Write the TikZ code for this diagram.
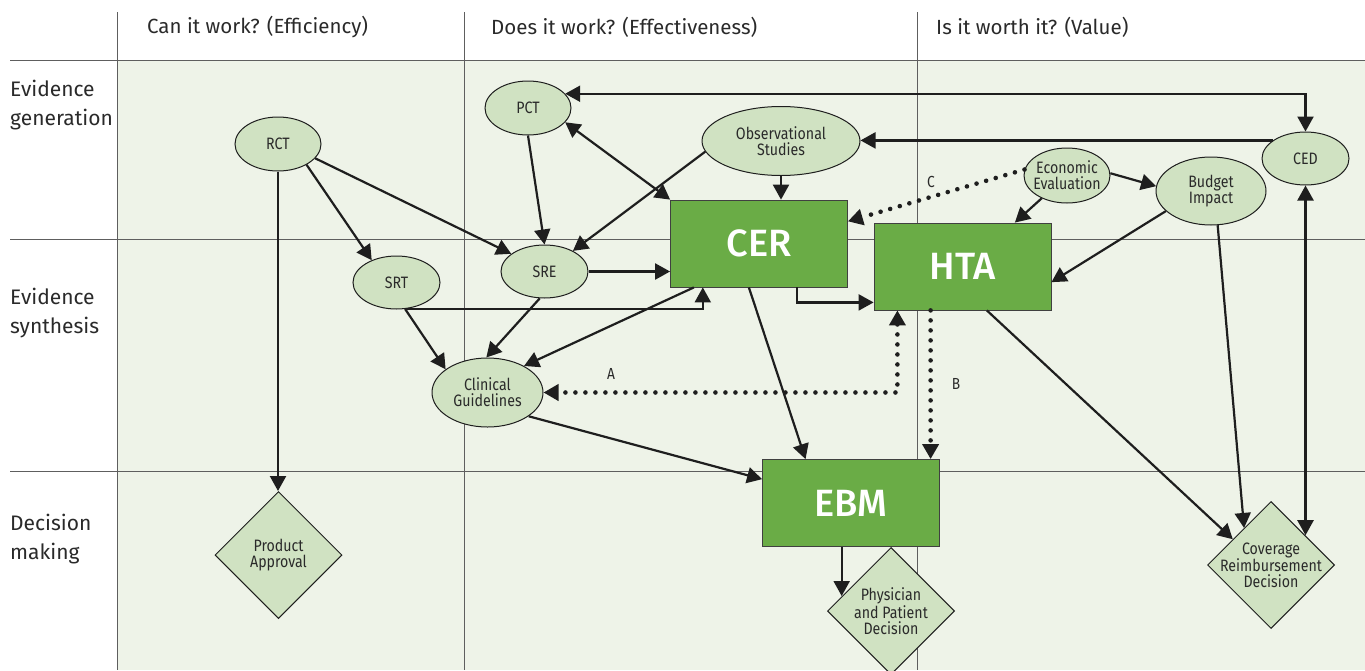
\documentclass[tikz,border=0pt]{standalone}
\usepackage{fontspec}
\setmainfont{Fira Sans}[FakeStretch=0.86]
\newfontfamily\plainfont{Fira Sans}
\newfontfamily\bigfont{Fira Sans}[UprightFont={* Medium}]
\usetikzlibrary{shapes.geometric,arrows.meta,calc}
\definecolor{bgg}{HTML}{EEF3E8}
\definecolor{ellf}{HTML}{D0E2C2}
\definecolor{boxf}{HTML}{6AAC46}
\definecolor{gridc}{HTML}{5E5E5E}
\definecolor{txt}{HTML}{2A2A2A}
\definecolor{arr}{HTML}{1E1E1E}
\tikzset{
  >={Triangle[length=15pt,width=16pt]},
  gridline/.style={draw=gridc, line width=1pt},
  lbl/.style={align=center, text=txt, font=\fontsize{16.5}{16}\selectfont, inner sep=0pt},
  ell/.style={ellipse, draw=arr, line width=1pt, fill=ellf, inner sep=0pt, label={[lbl]center:#1}},
  dia/.style={diamond, draw=arr, line width=1pt, fill=ellf, inner sep=0pt, minimum width=127pt, minimum height=127pt, label={[lbl]center:#1}},
  bigbox/.style={rectangle, draw=black!75, line width=0.8pt, fill=boxf, text=white, font=\bigfont\fontsize{38}{44}\selectfont, inner sep=0pt, minimum width=177pt, minimum height=87pt},
  hdr/.style={anchor=west, text=txt, font=\plainfont\fontsize{20.5}{24}\selectfont, inner sep=0pt},
  rowlbl/.style={anchor=west, align=left, text=txt, font=\plainfont\fontsize{21}{29}\selectfont, inner sep=0pt},
  ln/.style={draw=arr, line width=2.2pt},
  dln/.style={draw=arr, line width=4.6pt, dash pattern=on 0pt off 10pt, line cap=round},
  lettr/.style={text=txt, font=\fontsize{16}{16}\selectfont, inner sep=0pt}
}
\begin{document}
\begin{tikzpicture}[x=1pt,y=-1pt]
\useasboundingbox (0,0) rectangle (1365,670);
\fill[white] (0,0) rectangle (1365,670);
\fill[bgg] (117,60) rectangle (1365,670);
% grid
\draw[gridline] (117,12) -- (117,670);
\draw[gridline] (464,12) -- (464,670);
\draw[gridline] (917,12) -- (917,670);
\draw[gridline] (10,60) -- (1365,60);
\draw[gridline] (10,239) -- (1365,239);
\draw[gridline] (10,471) -- (1365,471);
% headers
\node[hdr] (h1) at (147,27) {Can it work? (Efficiency)};
\node[hdr] (h2) at (491,27) {Does it work? (Effectiveness)};
\node[hdr] (h3) at (936,27) {Is it worth it? (Value)};
\node[rowlbl] (r1) at (10,105) {Evidence\\generation};
\node[rowlbl] (r2) at (10,313) {Evidence\\synthesis};
\node[rowlbl] (r3) at (10,539) {Decision\\making};
% nodes
\node[ell={RCT}, minimum width=86pt, minimum height=54pt] (RCT) at (278,144) {};
\node[ell={PCT}, minimum width=86pt, minimum height=54pt] (PCT) at (528,108) {};
\node[ell={Observational\\Studies}, minimum width=158pt, minimum height=69pt] (Obs) at (781,141) {};
\node[ell={Economic\\Evaluation}, minimum width=86pt, minimum height=55pt] (EE) at (1067,175.5) {};
\node[ell={Budget\\Impact}, minimum width=110pt, minimum height=68pt] (BI) at (1211,191) {};
\node[ell={CED}, minimum width=87pt, minimum height=53pt] (CED) at (1305.5,158.5) {};
\node[ell={SRT}, minimum width=87pt, minimum height=53pt] (SRT) at (396.5,282.5) {};
\node[ell={SRE}, minimum width=87pt, minimum height=53pt] (SRE) at (544.5,271.5) {};
\node[ell={Clinical\\Guidelines}, minimum width=111pt, minimum height=69pt] (CG) at (487.5,392.5) {};
\node[bigbox] (CER) at (759,243.5) {CER};
\node[bigbox] (HTA) at (962.5,266.5) {HTA};
\node[bigbox] (EBM) at (851,503) {EBM};
\node[dia={Product\\Approval}] (PA) at (278.5,555) {};
\node[dia={Physician\\and Patient\\Decision}] (PPD) at (891,611) {};
\node[dia={Coverage\\Reimbursement\\Decision}] (COV) at (1271,565) {};
% letters
\node[lettr] (lA) at (611,374) {A};
\node[lettr] (lB) at (956,384) {B};
\node[lettr] (lC) at (931,182) {C};
% solid connectors
\draw[ln,->] (RCT.-36) -- (SRT.138);
\draw[ln,->] (RCT.-21) -- (SRE.152);
\draw[ln,->] (RCT.south) -- (RCT.south |- PA.north);
\draw[ln,->] (PCT.south) -- (SRE.north);
\draw[ln,<->] (PCT.-21) -- (CER.north west);
\draw[ln,->] (Obs.188) -- (SRE.36);
\draw[ln,->] (Obs.south) -- (Obs.south |- CER.north);
\draw[ln,->] (CED.151) -- (CED.151 -| Obs.east);
\draw[ln,<->] (PCT.21) -| (CED.north);
\draw[ln,->] (EE.3) -- (BI.175);
\draw[ln,->] (EE.-138) -- (HTA.40);
\draw[ln,->] (BI.-156) -- (HTA.-10);
\draw[ln,->] (BI.-79) -- (COV.126);
\draw[ln,<->] (CED.south) -- (CED.south |- COV.41);
\draw[ln,->] (HTA.-61) -- (COV.146);
\draw[ln,->] (SRE.east) -- (SRE.east -| CER.west);
\draw[ln,->] (SRT.-70) -| (CER.-142);
\draw[ln,->] (SRT.-72) -- (CG.151);
\draw[ln,->] (SRE.-100) -- (CG.92);
\draw[ln,->] (CER.-146) -- (CG.36);
\draw[ln,->] (CER.-49) |- (HTA.-158);
\draw[ln,->] (CER.-103) -- (EBM.136);
\draw[ln,->] (CG.-30) -- (EBM.165);
\draw[ln,->] (EBM.-102) -- (EBM.-102 |- PPD.163.5);
% dotted connectors
\draw[dln,->] (EE.172) -- (CER.14);
\draw[dln,<->] (HTA.-146) |- (CG.east);
\draw[dln,->] (HTA.-126) -- (HTA.-126 |- EBM.north);
\end{tikzpicture}
\end{document}
